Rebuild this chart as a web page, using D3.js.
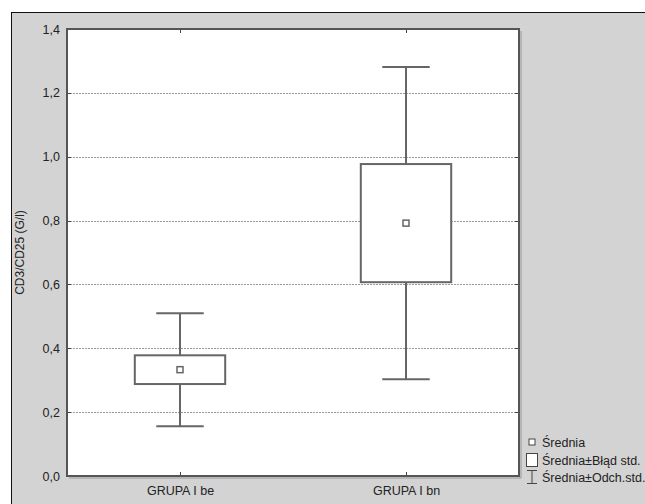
<!DOCTYPE html>
<html>
<head>
<meta charset="utf-8">
<script src="https://cdn.jsdelivr.net/npm/d3@7"></script>
<style>
  html, body { margin: 0; padding: 0; background: #fff; }
  svg { display: block; }
  text { font-family: "Liberation Sans", Arial, sans-serif; }
</style>
</head>
<body>
<svg id="chart" width="645" height="504"></svg>
<script>
// Groups and their summary statistics
const categories = ["GRUPA I be", "GRUPA I bn"];
const means = [0.333, 0.792];
const stdErrors = [0.045, 0.185];
const stdDevs = [0.177, 0.489];
const yTicks = [0.0, 0.2, 0.4, 0.6, 0.8, 1.0, 1.2, 1.4];
const yTitle = "CD3/CD25 (G/l)";
const legendLabels = ["Średnia", "Średnia±Błąd std.", "Średnia±Odch.std."];

const svg = d3.select("#chart");
const W = 645, H = 504;
const plot = { left: 67, top: 29, right: 519, bottom: 476 };

// panel background with dark border on top/left
svg.append("rect").attr("x", 11).attr("y", 12).attr("width", W - 11).attr("height", H - 12)
  .attr("fill", "#d3d3d3");
svg.append("line").attr("x1", 11).attr("x2", W).attr("y1", 12.5).attr("y2", 12.5)
  .attr("stroke", "#111").attr("stroke-width", 1);
svg.append("line").attr("x1", 11.5).attr("x2", 11.5).attr("y1", 12).attr("y2", H)
  .attr("stroke", "#111").attr("stroke-width", 1);

// plot area
svg.append("rect").attr("x", plot.left).attr("y", plot.top)
  .attr("width", plot.right - plot.left).attr("height", plot.bottom - plot.top)
  .attr("fill", "#fff");

const y = d3.scaleLinear().domain([0, 1.4]).range([plot.bottom, plot.top]);
const x = d3.scalePoint().domain(categories).range([plot.left, plot.right]).padding(0.5);
const boxW = x.step() * 0.4;
const capW = x.step() * 0.21;
const fmt = v => d3.format(".1f")(v).replace(".", ",");

// dashed gridlines
svg.append("g").selectAll("line").data(yTicks.filter(t => t > 0 && t < 1.4)).join("line")
  .attr("x1", plot.left).attr("x2", plot.right)
  .attr("y1", d => Math.round(y(d)) + 0.5).attr("y2", d => Math.round(y(d)) + 0.5)
  .attr("stroke", "#9a9a9a").attr("stroke-width", 1).attr("stroke-dasharray", "2,1");

// left axis labels
const yAxis = d3.axisLeft(y).tickValues(yTicks).tickFormat(fmt).tickSize(0).tickPadding(7);
const gy = svg.append("g").attr("transform", `translate(${plot.left},0)`).call(yAxis);
gy.select(".domain").remove();
gy.selectAll("text").attr("font-size", 12.5).attr("fill", "#222");

// inner tick marks on left and right edges
["left", "right"].forEach(side => {
  const x0 = side === "left" ? plot.left : plot.right;
  const dir = side === "left" ? 1 : -1;
  svg.append("g").selectAll("line").data(yTicks).join("line")
    .attr("x1", x0).attr("x2", x0 + dir * 4)
    .attr("y1", d => Math.round(y(d)) + 0.5).attr("y2", d => Math.round(y(d)) + 0.5)
    .attr("stroke", "#444").attr("stroke-width", 1);
});

// x axis labels and inner ticks on top and bottom edges
const xAxis = d3.axisBottom(x).tickSize(0).tickPadding(10);
const gx = svg.append("g").attr("transform", `translate(0,${plot.bottom})`).call(xAxis);
gx.select(".domain").remove();
gx.selectAll("text").attr("font-size", 12.5).attr("fill", "#222");
[plot.top, plot.bottom].forEach((yy, i) => {
  svg.append("g").selectAll("line").data(categories).join("line")
    .attr("x1", d => Math.round(x(d)) + 0.5).attr("x2", d => Math.round(x(d)) + 0.5)
    .attr("y1", yy).attr("y2", yy + (i === 0 ? 4 : -4))
    .attr("stroke", "#444").attr("stroke-width", 1);
});

// y axis title
svg.append("text")
  .attr("transform", `translate(24,${(plot.top + plot.bottom) / 2}) rotate(-90)`)
  .attr("text-anchor", "middle").attr("font-size", 12).attr("fill", "#222")
  .text(yTitle);

// box-and-whisker marks: box = mean ± SE, whiskers = mean ± SD
const stroke = "#666";
const g = svg.append("g");
const data = categories.map((c, i) => ({ c, m: means[i], se: stdErrors[i], sd: stdDevs[i] }));

g.selectAll(".whisker").data(data).join("line").attr("class", "whisker")
  .attr("x1", d => x(d.c)).attr("x2", d => x(d.c))
  .attr("y1", d => y(d.m + d.sd)).attr("y2", d => y(d.m - d.sd))
  .attr("stroke", stroke).attr("stroke-width", 2);
["hi", "lo"].forEach(k => {
  g.selectAll(".cap-" + k).data(data).join("line").attr("class", "cap-" + k)
    .attr("x1", d => x(d.c) - capW / 2).attr("x2", d => x(d.c) + capW / 2)
    .attr("y1", d => y(k === "hi" ? d.m + d.sd : d.m - d.sd))
    .attr("y2", d => y(k === "hi" ? d.m + d.sd : d.m - d.sd))
    .attr("stroke", stroke).attr("stroke-width", 2);
});
g.selectAll(".box").data(data).join("rect").attr("class", "box")
  .attr("x", d => x(d.c) - boxW / 2).attr("width", boxW)
  .attr("y", d => y(d.m + d.se)).attr("height", d => y(d.m - d.se) - y(d.m + d.se))
  .attr("fill", "#fff").attr("stroke", stroke).attr("stroke-width", 2);
g.selectAll(".mean").data(data).join("rect").attr("class", "mean")
  .attr("x", d => x(d.c) - 3).attr("y", d => y(d.m) - 3)
  .attr("width", 6).attr("height", 6)
  .attr("fill", "#fff").attr("stroke", stroke).attr("stroke-width", 1.5);

// plot frame with soft shadow
svg.append("rect").attr("x", plot.left).attr("y", plot.top)
  .attr("width", plot.right - plot.left).attr("height", plot.bottom - plot.top)
  .attr("fill", "none").attr("stroke", "#555").attr("stroke-width", 2);
svg.append("path")
  .attr("d", `M${plot.left + 2},${plot.bottom + 2}H${plot.right + 2}V${plot.top + 2}`)
  .attr("fill", "none").attr("stroke", "#999").attr("stroke-width", 1);

// legend
const lg = svg.append("g").attr("font-size", 12.5).attr("fill", "#222");
const lx = 532, ly = [442, 460, 477];
lg.append("rect").attr("x", lx - 3).attr("y", ly[0] - 3).attr("width", 6).attr("height", 6)
  .attr("fill", "#fff").attr("stroke", "#444").attr("stroke-width", 1);
lg.append("rect").attr("x", lx - 5.5).attr("y", ly[1] - 6.5).attr("width", 11).attr("height", 13)
  .attr("fill", "#fff").attr("stroke", "#444").attr("stroke-width", 1);
lg.append("path")
  .attr("d", `M${lx - 5},${ly[2] - 6.5}H${lx + 5}M${lx},${ly[2] - 6.5}V${ly[2] + 6.5}M${lx - 5},${ly[2] + 6.5}H${lx + 5}`)
  .attr("stroke", "#444").attr("stroke-width", 1).attr("fill", "none");
lg.selectAll("text").data(legendLabels).join("text")
  .attr("x", 542).attr("y", (d, i) => ly[i] + 4.5)
  .text(d => d);
</script>
</body>
</html>
